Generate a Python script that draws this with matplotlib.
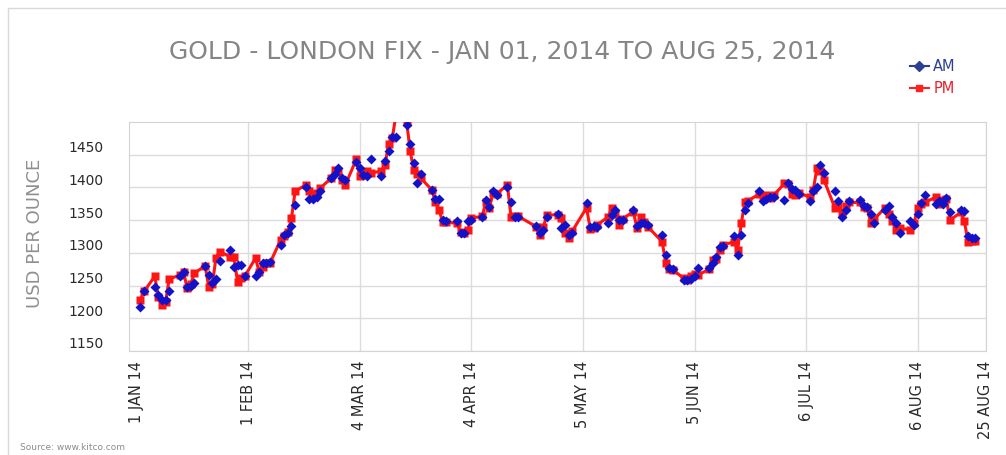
import matplotlib
matplotlib.use('Agg')
import matplotlib.pyplot as plt
import matplotlib.transforms as mtransforms
from matplotlib.lines import Line2D
from matplotlib.patches import Rectangle
import pandas as pd

# London fix trading days (UK bank holidays removed)
holidays = ['2014-04-18', '2014-04-21', '2014-05-05', '2014-05-26']
dates = pd.bdate_range('2014-01-02', '2014-08-22', freq='C', holidays=holidays)

am_jan = [1217, 1241, 1248, 1235, 1228, 1228, 1241, 1265, 1271, 1248, 1250, 1254, 1280, 1266, 1254, 1260, 1287, 1304, 1279, 1281, 1281, 1265]
pm_jan = [1228, 1241, 1264, 1233, 1220, 1225, 1260, 1266, 1271, 1246, 1252, 1269, 1280, 1248, 1252, 1292, 1302, 1294, 1294, 1256, 1262, 1264]
am_feb = [1264, 1271, 1284, 1284, 1286, 1312, 1327, 1330, 1341, 1373, 1400, 1382, 1382, 1385, 1394, 1414, 1420, 1429, 1415, 1411]
pm_feb = [1292, 1271, 1278, 1284, 1284, 1320, 1325, 1332, 1353, 1394, 1404, 1394, 1390, 1392, 1399, 1414, 1427, 1425, 1411, 1404]
am_mar = [1439, 1429, 1419, 1417, 1443, 1417, 1440, 1455, 1477, 1477, 1495, 1467, 1438, 1406, 1420, 1396, 1382, 1382, 1350, 1349, 1348]
pm_mar = [1443, 1417, 1419, 1425, 1422, 1425, 1435, 1467, 1475, 1510, 1500, 1455, 1426, 1421, 1414, 1396, 1378, 1366, 1347, 1347, 1345]
am_apr = [1330, 1331, 1348, 1350, 1355, 1381, 1370, 1394, 1389, 1401, 1377, 1355, 1355, 1341, 1330, 1335, 1355, 1360, 1338, 1343]
pm_apr = [1332, 1330, 1335, 1353, 1356, 1377, 1368, 1392, 1390, 1404, 1355, 1357, 1356, 1340, 1328, 1340, 1358, 1358, 1353, 1330]
am_may = [1327, 1330, 1376, 1340, 1341, 1340, 1345, 1358, 1366, 1350, 1350, 1366, 1341, 1345, 1345, 1342, 1327, 1297, 1277, 1276]
pm_may = [1322, 1333, 1369, 1337, 1338, 1343, 1355, 1369, 1360, 1343, 1352, 1363, 1338, 1355, 1347, 1340, 1317, 1285, 1275, 1274]
am_jun = [1259, 1258, 1260, 1265, 1277, 1277, 1285, 1294, 1309, 1310, 1325, 1297, 1327, 1365, 1376, 1394, 1379, 1382, 1385, 1385, 1381]
pm_jun = [1261, 1258, 1265, 1268, 1266, 1275, 1289, 1290, 1305, 1312, 1317, 1305, 1345, 1378, 1380, 1390, 1385, 1389, 1384, 1388, 1406]
am_jul = [1406, 1398, 1396, 1390, 1379, 1394, 1400, 1434, 1422, 1394, 1379, 1355, 1366, 1379, 1381, 1372, 1370, 1360, 1345, 1366, 1372, 1355, 1345]
pm_jul = [1405, 1390, 1389, 1392, 1385, 1396, 1429, 1425, 1411, 1369, 1372, 1360, 1372, 1377, 1377, 1370, 1368, 1345, 1352, 1369, 1360, 1348, 1335]
am_aug = [1330, 1348, 1343, 1360, 1376, 1389, 1374, 1379, 1374, 1384, 1362, 1366, 1364, 1325, 1323, 1322]
pm_aug = [1338, 1335, 1345, 1369, 1374, 1377, 1385, 1375, 1381, 1382, 1350, 1362, 1348, 1317, 1318, 1318]

am = am_jan + am_feb + am_mar + am_apr + am_may + am_jun + am_jul + am_aug
pm = pm_jan + pm_feb + pm_mar + pm_apr + pm_may + pm_jun + pm_jul + pm_aug

tick_dates = ['2014-01-01', '2014-02-01', '2014-03-04', '2014-04-04', '2014-05-05',
              '2014-06-05', '2014-07-06', '2014-08-06', '2014-08-25']
tick_labels = ['1 JAN 14', '1 FEB 14', '4 MAR 14', '4 APR 14', '5 MAY 14',
               '5 JUN 14', '6 JUL 14', '6 AUG 14', '25 AUG 14']
y_ticks = [1150, 1200, 1250, 1300, 1350, 1400, 1450]

fig = plt.figure(figsize=(10.06, 4.55), dpi=100)
ax = fig.add_axes([0.1282, 0.2286, 0.8519, 0.5033])

ax.plot(dates, pm, color='#ff1414', lw=2.2, marker='s', ms=5.2, mec='none', zorder=3)
ax.plot(dates, am, ls='none', marker='D', ms=4.6, color='#1212c8', mec='none', zorder=4)

ax.set_xlim(pd.Timestamp('2013-12-29 20:00'), pd.Timestamp('2014-08-25'))
ax.set_ylim(1150, 1500)
ax.set_yticks(y_ticks)
ax.set_xticks(pd.to_datetime(tick_dates))
ax.set_xticklabels(tick_labels, rotation=90, ha='center', va='top')

ax.grid(True, color='#dcdcdc', lw=1)
ax.set_axisbelow(True)
ax.xaxis.get_major_ticks()[0].gridline.set_visible(False)
for s in ax.spines.values():
    s.set_color('#d4d4d4')
ax.tick_params(length=0, labelsize=10, colors='#2a2a2a')
ax.tick_params(axis='y', pad=18)
ax.tick_params(axis='x', pad=7, labelsize=10.5)

# y labels sit a little above their gridlines in the original
offset = mtransforms.ScaledTranslation(0, 8 / 100, fig.dpi_scale_trans)
for t in ax.yaxis.get_major_ticks():
    t.label1.set_transform(t.label1.get_transform() + offset)

fig.text(0.4995, 1 - 52 / 455, 'GOLD - LONDON FIX - JAN 01, 2014 TO AUG 25, 2014',
         ha='center', va='center', fontsize=18, color='#858585')
fig.text(35 / 1006, 1 - 233 / 455, 'USD PER OUNCE', rotation=90,
         ha='center', va='center', fontsize=13, color='#8f8f8f')
fig.text(20 / 1006, 1 - 447 / 455, 'Source: www.kitco.com', fontsize=6.5,
         color='#8c8c8c', va='center')

handles = [Line2D([], [], color='#2b3f96', marker='D', ms=5, lw=1.5),
           Line2D([], [], color='#ff2020', marker='s', ms=5, lw=1.5)]
fig.legend(handles, ['AM', 'PM'], loc='upper left', bbox_to_anchor=(910 / 1006, 1 - 59 / 455),
           frameon=False, fontsize=10.5, labelcolor=['#2b3f96', '#e8202a'],
           handlelength=1.3, handletextpad=0.3, labelspacing=0.5, borderaxespad=0, borderpad=0)

fig.patches.append(Rectangle((8 / 1006, -0.1), 1.2, 1.1 - 8 / 455, transform=fig.transFigure,
                             fill=False, ec='#d9d9d9', lw=1))

fig.savefig('out.png', dpi=100)
